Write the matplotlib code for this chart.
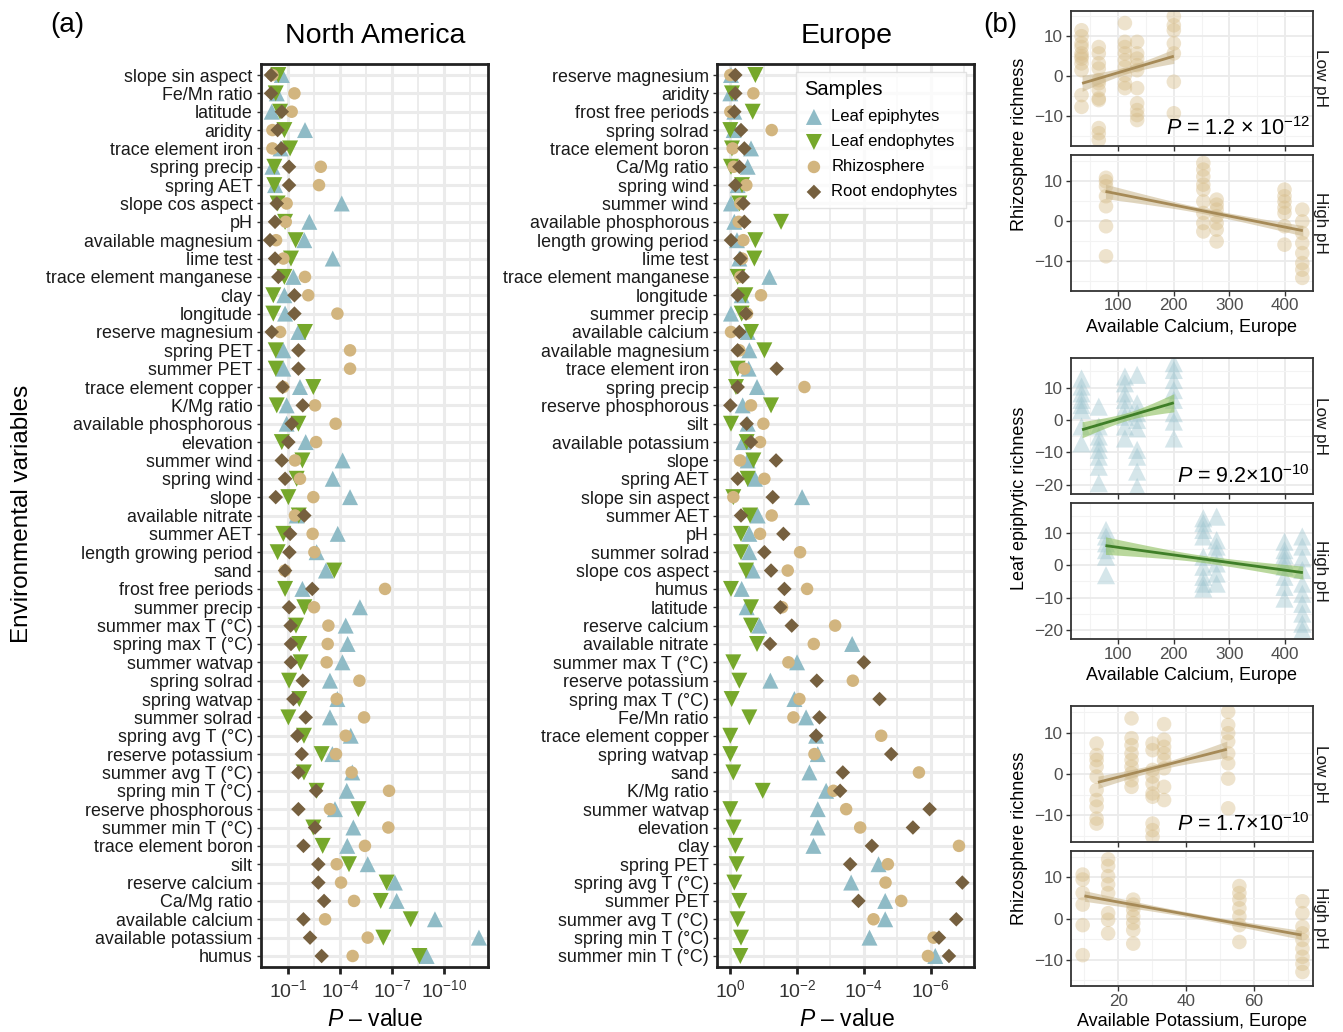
import numpy as np
import matplotlib
matplotlib.use("Agg")
import matplotlib.pyplot as plt

plt.rcParams['font.family'] = ['Liberation Sans', 'DejaVu Sans']
plt.rcParams['mathtext.fontset'] = 'custom'
plt.rcParams['mathtext.rm'] = 'Liberation Sans'
plt.rcParams['mathtext.it'] = 'Liberation Sans:italic'
plt.rcParams['mathtext.bf'] = 'Liberation Sans:bold'

# ---------------- Panel (a) data: -log10(P) ----------------
na_vars = ["slope sin aspect", "Fe/Mn ratio", "latitude", "aridity", "trace element iron",
           "spring precip", "spring AET", "slope cos aspect", "pH", "available magnesium",
           "lime test", "trace element manganese", "clay", "longitude", "reserve magnesium",
           "spring PET", "summer PET", "trace element copper", "K/Mg ratio",
           "available phosphorous", "elevation", "summer wind", "spring wind", "slope",
           "available nitrate", "summer AET", "length growing period", "sand",
           "frost free periods", "summer precip", "summer max T (°C)", "spring max T (°C)",
           "summer watvap", "spring solrad", "spring watvap", "summer solrad",
           "spring avg T (°C)", "reserve potassium", "summer avg T (°C)", "spring min T (°C)",
           "reserve phosphorous", "summer min T (°C)", "trace element boron", "silt",
           "reserve calcium", "Ca/Mg ratio", "available calcium", "available potassium", "humus"]
na_leaf_epi = [0.62, 0.33, 0.04, 1.96, 0.55, 0.08, 0.23, 4.08, 2.21, 1.92, 3.56, 1.29, 0.77,
               0.81, 1.58, 0.71, 0.71, 1.67, 0.90, 0.90, 2.00, 4.13, 3.56, 4.56, 1.48, 3.85,
               2.63, 3.17, 1.81, 5.13, 4.31, 4.42, 4.12, 3.40, 3.83, 3.40, 4.60, 3.54, 4.69,
               4.37, 3.69, 4.75, 4.40, 5.58, 7.15, 7.25, 9.46, 12.0, 8.98]
na_leaf_endo = [0.42, 0.27, 0.52, 0.77, 1.10, 0.19, 0.19, 0.38, 0.81, 1.42, 1.15, 0.77, 0.13,
                0.13, 1.96, 0.27, 0.27, 2.44, 0.33, 1.58, 0.62, 1.81, 1.48, 1.00, 1.60, 0.71,
                0.38, 3.65, 0.81, 1.92, 1.44, 1.63, 1.71, 1.04, 1.63, 1.00, 1.90, 2.92, 1.90,
                2.63, 5.04, 2.44, 2.98, 4.50, 6.67, 6.33, 8.06, 6.48, 8.56]
na_rhizo = [0.08, 1.35, 1.19, 0.08, 0.08, 2.87, 2.77, 0.90, 0.85, 0.29, 0.71, 1.96, 2.15,
            3.83, 0.52, 4.56, 4.56, 0.70, 2.54, 3.73, 2.60, 1.38, 1.67, 2.44, 1.38, 2.40,
            2.50, 0.80, 6.58, 2.48, 3.31, 3.27, 3.21, 5.10, 3.79, 5.37, 4.31, 3.75, 4.65,
            6.81, 3.40, 6.77, 5.42, 3.79, 4.04, 4.79, 3.12, 5.58, 4.71]
na_root_endo = [0.00, 0.00, 0.62, 0.38, 0.60, 1.04, 1.04, 0.33, 0.23, -0.06, 0.23, 0.42, 1.35,
                1.35, 0.04, 1.58, 1.58, 0.67, 1.83, 1.19, 1.00, 0.62, 0.81, 0.27, 1.92, 1.10,
                1.06, 0.81, 2.38, 1.04, 1.13, 1.15, 1.15, 1.83, 1.29, 2.00, 1.52, 1.77, 1.58,
                2.60, 1.58, 2.54, 1.87, 2.73, 2.73, 3.06, 1.87, 2.25, 2.92]

eu_vars = ["reserve magnesium", "aridity", "frost free periods", "spring solrad",
           "trace element boron", "Ca/Mg ratio", "spring wind", "summer wind",
           "available phosphorous", "length growing period", "lime test",
           "trace element manganese", "longitude", "summer precip", "available calcium",
           "available magnesium", "trace element iron", "spring precip", "reserve phosphorous",
           "silt", "available potassium", "slope", "spring AET", "slope sin aspect",
           "summer AET", "pH", "summer solrad", "slope cos aspect", "humus", "latitude",
           "reserve calcium", "available nitrate", "summer max T (°C)", "reserve potassium",
           "spring max T (°C)", "Fe/Mn ratio", "trace element copper", "spring watvap", "sand",
           "K/Mg ratio", "summer watvap", "elevation", "clay", "spring PET", "spring avg T (°C)",
           "summer PET", "summer avg T (°C)", "spring min T (°C)", "summer min T (°C)"]
eu_leaf_epi = [0.02, 0.00, 0.12, 0.10, 0.62, 0.52, 0.22, 0.02, 0.12, 0.20, 0.27, 1.17, 0.34,
               0.02, 0.52, 0.57, 0.55, 0.80, 0.37, 0.52, 0.39, 0.52, 0.74, 2.15, 0.82, 0.57,
               0.57, 0.67, 0.34, 0.49, 0.87, 3.65, 2.00, 1.20, 1.92, 2.27, 2.57, 2.62, 2.37,
               2.87, 2.62, 2.62, 2.49, 4.44, 3.62, 4.64, 4.64, 4.17, 6.14]
eu_leaf_endo = [0.75, 0.05, 0.67, 0.00, 0.05, 0.02, 0.35, 0.27, 1.52, 0.75, 0.72, 0.22, 0.45,
                0.34, 0.62, 1.02, 0.22, 0.17, 1.22, 0.02, 0.49, 0.69, 0.52, 0.09, 0.59, 0.32,
                0.32, 0.47, 0.02, 0.62, 0.62, 0.80, 0.09, 0.27, 0.04, 0.57, 0.00, 0.00, 0.09,
                0.97, 0.00, 0.10, 0.15, 0.19, 0.12, 0.27, 0.22, 0.32, 0.30]
eu_rhizo = [0.00, 0.69, 0.00, 1.24, 0.07, 0.10, 0.48, 0.30, 0.25, 0.39, 0.35, 0.30, 0.92,
            0.50, 0.02, 0.27, 0.42, 2.22, 0.62, 0.99, 0.89, 0.29, 1.02, 0.09, 1.24, 0.89,
            2.09, 1.72, 2.30, 1.55, 3.14, 2.50, 1.74, 3.67, 2.07, 1.89, 4.52, 2.52, 5.65,
            3.09, 3.47, 3.89, 6.85, 4.72, 4.65, 5.12, 4.29, 6.09, 5.92]
eu_root_endo = [0.15, 0.15, 0.12, 0.32, 0.42, 0.27, 0.15, 0.39, 0.42, 0.02, 0.30, 0.37, 0.22,
                0.47, 0.27, 0.22, 1.39, 0.22, 0.00, 0.49, 0.62, 1.37, 0.22, 1.27, 0.32, 1.59,
                1.02, 1.22, 1.62, 1.50, 1.84, 1.19, 4.00, 2.59, 4.47, 2.67, 2.57, 4.82, 3.37,
                3.29, 5.97, 5.47, 4.24, 3.59, 6.95, 3.84, 6.77, 6.25, 6.55]

sample_names = ["Leaf epiphytes", "Leaf endophytes", "Rhizosphere", "Root endophytes"]
sample_colors = ["#8FBBC6", "#76A82B", "#D2B57F", "#76603F"]
sample_markers = ["^", "v", "o", "D"]
sample_sizes = [11.5, 11.5, 9.0, 7.4]

# ---------------- Panel (b) data ----------------
ca_low_x = [34, 65, 112, 134, 200]
ca_high_x = [78, 253, 277, 399, 431]
rh_ca_low_y = [[11.5, 10, 8.2, 7.3, 5.7, 5.0, 4.4, 3.2, 1.5, -4.75, -7.7],
               [7.3, 5.7, 3.2, 1.9, -1, -1.8, -3.5, -5.6, -6, -13, -14.3, -16],
               [13.3, 8.6, 7.3, 5.7, 4, 2.3, 0.25, -1.8, -3],
               [8.6, 5.7, 4.4, 2.75, 1.5, -3, -6.8, -8.5, -9.75, -11],
               [15, 12.75, 11.5, 8.2, 5.7, -1.4, -9.3]]
rh_ca_high_y = [[10.7, 9.8, 8.6, 6.1, 3.6, -1.4, -8.9],
                [14.4, 12.75, 11, 9, 7.75, 4.8, 1.9, -0.6, -2.7],
                [5.25, 4, 2.75, 1.1, -0.6, -2.25, -5.2],
                [7.75, 6.1, 4.8, 3.2, 1.9, -1.4, -6],
                [2.75, -0.2, -3.1, -5.6, -8.1, -10.6, -12.25, -14.3]]
le_ca_low_y = [[12.8, 10.3, 8.2, 6.2, 4.6, 3.1, -2, -7.2],
               [4.1, -2, -5.1, -7.2, -9.2, -11.3, -14.4, -19.5],
               [13.4, 11.3, 8.2, 6.2, 3.6, 1, -2, -5.7],
               [13.9, 5.1, 2.1, 0, -2.6, -9.2, -11.3, -15.9, -20.6],
               [17.5, 15.4, 12.3, 9.2, 6.2, 2.1, -0.5, -5.7]]
le_ca_high_y = [[10.8, 8.8, 6.7, 4.6, 2.6, -3.1],
                [14.4, 12.9, 10.8, 8.8, 2.6, -0.5, -3.6, -5.7, -7.2],
                [14.9, 7.7, 5.7, 3.6, 0.5, -2.6, -5.7],
                [7.2, 4.6, 3.1, 1.5, -0.5, -3.6, -6.7, -10.3],
                [8.8, 5.7, 2.1, -1.5, -5.7, -8.8, -11.9, -14.9, -18, -20]]
k_low_x = [13.6, 23.9, 30.1, 33.5, 52.4]
k_high_x = [9.5, 17, 24.4, 55.7, 74.3]
rh_k_low_y = [[7.4, 4.6, 3.4, 1.8, -0.6, -3.9, -6.3, -7.9, -10.8, -12],
              [13.5, 8.7, 7, 5, 3.4, 1.8, 0.2, -1.5, -3.1],
              [7.4, 5.8, 1, -0.6, -2.3, -4.7, -5.5, -12, -13.6, -15.2],
              [12.1, 8.3, 6.6, 5, 3.4, 1.4, -3.1, -6.3],
              [15.1, 11.9, 9.9, 7.9, 5, 2.6, -1.1, -8.3]]
rh_k_high_y = [[10.7, 9.5, 6.2, 3.4, -1.6, -8.9],
               [14.4, 12.8, 10.3, 8.3, 6.2, 1.3, -0.3, -3.6],
               [4.6, 3.4, 2.1, 0.5, -1.1, -2.8, -6.1],
               [7.9, 6.2, 4.6, 2.5, 0.5, -1.6, -5.7],
               [4.2, 1.3, -2, -3.6, -5.2, -7.3, -9.3, -11, -13]]
# fitted lines: (x start, x end, y start, y end, half-width start, centre, end)
fit_rh_ca_low = (35, 200, -1.8, 5.0, 2.0, 0.9, 1.8)
fit_rh_ca_high = (77, 432, 7.3, -2.5, 1.8, 0.7, 1.3)
fit_le_ca_low = (35, 200, -3.0, 5.3, 2.5, 1.2, 2.8)
fit_le_ca_high = (77, 432, 6.0, -2.3, 2.7, 1.1, 2.0)
fit_rh_k_low = (14, 52, -2.0, 6.0, 1.5, 0.8, 2.0)
fit_rh_k_high = (10, 74, 5.5, -4.0, 1.3, 0.6, 1.1)

W, H = 1343, 1032
fig = plt.figure(figsize=(W / 100, H / 100), dpi=100)
fig.patch.set_facecolor("white")


def rect(x0, y0, x1, y1):
    return [x0 / W, 1 - y1 / H, (x1 - x0) / W, (y1 - y0) / H]


def ftext(x, y, s, **kw):
    fig.text(x / W, 1 - y / H, s, **kw)


def strip_panel(ax, vars_, series, xlim, majors, minors, labels):
    n = len(vars_)
    pos = np.arange(1, n + 1)
    ax.set_xlim(*xlim)
    ax.set_ylim(n + 0.6, 0.4)
    ax.set_xticks(minors, minor=True)
    ax.set_xticks(majors)
    ax.set_xticklabels(labels, fontsize=14, color="#333333")
    ax.set_yticks(pos)
    ax.set_yticklabels(vars_, fontsize=12.9, color="#1a1a1a")
    ax.grid(True, which="major", color="#EBEBEB", lw=2.2, zorder=0)
    ax.grid(True, which="minor", axis="x", color="#EBEBEB", lw=1.3, zorder=0)
    ax.set_axisbelow(True)
    for sp in ax.spines.values():
        sp.set_linewidth(2.0)
        sp.set_color("#222222")
    ax.tick_params(axis="x", which="major", length=5, width=2, color="#222222", pad=4)
    ax.tick_params(axis="x", which="minor", length=0)
    ax.tick_params(axis="y", length=3, width=1, color="#333333", pad=3)
    order = [2, 3, 0, 1]
    for k in order:
        ax.scatter(series[k], pos, marker=sample_markers[k], s=sample_sizes[k] ** 2,
                   color=sample_colors[k], edgecolors="none", zorder=3 + k,
                   label=sample_names[k])


ax_na = fig.add_axes(rect(261, 64, 488.3, 967))
strip_panel(ax_na, na_vars, [na_leaf_epi, na_leaf_endo, na_rhizo, na_root_endo],
            (-0.58, 12.54), [1, 4, 7, 10], [2.5, 5.5, 8.5, 11.5],
            [r"$10^{-1}$", r"$10^{-4}$", r"$10^{-7}$", r"$10^{-10}$"])
ax_eu = fig.add_axes(rect(717.3, 64, 974, 967))
strip_panel(ax_eu, eu_vars, [eu_leaf_epi, eu_leaf_endo, eu_rhizo, eu_root_endo],
            (-0.39, 7.3), [0, 2, 4, 6], [1, 3, 5, 7],
            [r"$10^{0}$", r"$10^{-2}$", r"$10^{-4}$", r"$10^{-6}$"])

handles, labs = ax_eu.get_legend_handles_labels()
hmap = dict(zip(labs, handles))
leg = ax_eu.legend([hmap[n] for n in sample_names], sample_names, title="Samples",
                   loc="upper right", bbox_to_anchor=((966 - 717.3) / (974 - 717.3), (967 - 72) / 903),
                   fontsize=12, title_fontsize=14.5, frameon=True, fancybox=False,
                   edgecolor="#DDDDDD", borderpad=0.5, labelspacing=0.6, handletextpad=0.45,
                   handlelength=1.2, borderaxespad=0)
leg._legend_box.align = "left"
leg.get_frame().set_linewidth(1.0)

ftext(375, 36, "North America", fontsize=20.5, ha="center", va="center")
ftext(847, 36, "Europe", fontsize=20.5, ha="center", va="center")
ftext(375, 1019, r"$\it{P}$ – value", fontsize=16.5, ha="center", va="center")
ftext(847, 1019, r"$\it{P}$ – value", fontsize=16.5, ha="center", va="center")
ftext(22, 514, "Environmental variables", fontsize=17.5, ha="center", va="center", rotation=90)
ftext(67, 25, "(a)", fontsize=20, ha="center", va="center")
ftext(1000, 25, "(b)", fontsize=20, ha="center", va="center")


# ---------------- Panel (b) ----------------
def facet(ax, xs, ys, fit, marker, pcolor, lcolor, bcolor, balpha, xlim, ylim,
          xmaj, xmin, ymaj, ymin, show_x, strip):
    ax.set_xlim(*xlim)
    ax.set_ylim(*ylim)
    ax.set_xticks(xmin, minor=True)
    ax.set_yticks(ymin, minor=True)
    ax.set_xticks(xmaj)
    ax.set_yticks(ymaj)
    ax.grid(True, which="major", color="#EBEBEB", lw=1.3, zorder=0)
    ax.grid(True, which="minor", color="#F3F3F3", lw=0.8, zorder=0)
    ax.set_axisbelow(True)
    for sp in ax.spines.values():
        sp.set_linewidth(1.3)
        sp.set_color("#333333")
    ax.tick_params(which="minor", length=0)
    ax.tick_params(which="major", length=3.5, width=1, color="#333333",
                   labelsize=12.3, labelcolor="#4D4D4D", pad=2)
    ax.set_yticklabels([("−" + str(abs(v))) if v < 0 else str(v) for v in ymaj])
    if show_x:
        ax.set_xticklabels([str(v) for v in xmaj])
    else:
        ax.set_xticklabels([])
    for x, yl in zip(xs, ys):
        ax.scatter([x] * len(yl), yl, marker=marker, s=110 if marker == "o" else 170,
                   color=pcolor, alpha=0.42, edgecolors="none", zorder=2)
    x0, x1, y0, y1, h0, hc, h1 = fit
    xx = np.linspace(x0, x1, 80)
    yy = y0 + (y1 - y0) * (xx - x0) / (x1 - x0)
    xm = 0.5 * (x0 + x1)
    t = (xx - xm) / (x1 - xm)
    he = np.where(xx < xm, h0, h1)
    half = np.sqrt(hc ** 2 + (he ** 2 - hc ** 2) * t ** 2)
    ax.fill_between(xx, yy - half, yy + half, color=bcolor, alpha=balpha, lw=0, zorder=3)
    ax.plot(xx, yy, color=lcolor, lw=2.0, zorder=4, solid_capstyle="butt")
    ax.text(1.03, 0.5, strip, transform=ax.transAxes, rotation=270, ha="center",
            va="center", fontsize=12.3, color="#1a1a1a")


ca_xlim = (14.5, 450.8)
k_xlim = (5.96, 77.5)
rh_col = "#D7BD8A"
le_col = "#9CC4CF"
tan_line = "#A68A57"
tan_band = "#C9B58B"
grn_line = "#3F7F28"
grn_band = "#8DBF5C"

a = fig.add_axes(rect(1070.7, 10.7, 1313.3, 146))
facet(a, ca_low_x, rh_ca_low_y, fit_rh_ca_low, "o", rh_col, tan_line, tan_band, 0.55,
      ca_xlim, (-17.5, 16.4), [100, 200, 300, 400], [50, 150, 250, 350, 450],
      [-10, 0, 10], [-15, -5, 5, 15], False, "Low pH")
a.text(0.985, 0.13, r"$\it{P}$ = 1.2 × 10$^{\mathregular{-12}}$", transform=a.transAxes,
       ha="right", va="center", fontsize=15.5, zorder=6)
a = fig.add_axes(rect(1070.7, 155, 1313.3, 290.7))
facet(a, ca_high_x, rh_ca_high_y, fit_rh_ca_high, "o", rh_col, tan_line, tan_band, 0.55,
      ca_xlim, (-17.5, 16.4), [100, 200, 300, 400], [50, 150, 250, 350, 450],
      [-10, 0, 10], [-15, -5, 5, 15], True, "High pH")

a = fig.add_axes(rect(1070.7, 358.3, 1313.3, 494))
facet(a, ca_low_x, le_ca_low_y, fit_le_ca_low, "^", le_col, grn_line, grn_band, 0.6,
      ca_xlim, (-22.8, 19.0), [100, 200, 300, 400], [50, 150, 250, 350, 450],
      [-20, -10, 0, 10], [-15, -5, 5, 15], False, "Low pH")
a.text(0.985, 0.13, r"$\it{P}$ = 9.2×10$^{−10}$", transform=a.transAxes,
       ha="right", va="center", fontsize=15.5, zorder=6)
a = fig.add_axes(rect(1070.7, 503.3, 1313.3, 639.3))
facet(a, ca_high_x, le_ca_high_y, fit_le_ca_high, "^", le_col, grn_line, grn_band, 0.6,
      ca_xlim, (-22.8, 19.0), [100, 200, 300, 400], [50, 150, 250, 350, 450],
      [-20, -10, 0, 10], [-15, -5, 5, 15], True, "High pH")

a = fig.add_axes(rect(1070.7, 706, 1313.3, 841.7))
facet(a, k_low_x, rh_k_low_y, fit_rh_k_low, "o", rh_col, tan_line, tan_band, 0.55,
      k_xlim, (-16.4, 16.5), [20, 40, 60], [10, 30, 50, 70],
      [-10, 0, 10], [-15, -5, 5, 15], False, "Low pH")
a.text(0.985, 0.13, r"$\it{P}$ = 1.7×10$^{−10}$", transform=a.transAxes,
       ha="right", va="center", fontsize=15.5, zorder=6)
a = fig.add_axes(rect(1070.7, 850.7, 1313.3, 986))
facet(a, k_high_x, rh_k_high_y, fit_rh_k_high, "o", rh_col, tan_line, tan_band, 0.55,
      k_xlim, (-16.4, 16.5), [20, 40, 60], [10, 30, 50, 70],
      [-10, 0, 10], [-15, -5, 5, 15], True, "High pH")

ftext(1020, 144, "Rhizosphere richness", fontsize=13, ha="center", va="center", rotation=90)
ftext(1020, 498, "Leaf epiphytic richness", fontsize=13, ha="center", va="center", rotation=90)
ftext(1020, 838, "Rhizosphere richness", fontsize=13, ha="center", va="center", rotation=90)
ftext(1192, 327, "Available Calcium, Europe", fontsize=13, ha="center", va="center")
ftext(1192, 675, "Available Calcium, Europe", fontsize=13, ha="center", va="center")
ftext(1192, 1021, "Available Potassium, Europe", fontsize=13, ha="center", va="center")

fig.savefig("out.png", dpi=100, facecolor="white")
